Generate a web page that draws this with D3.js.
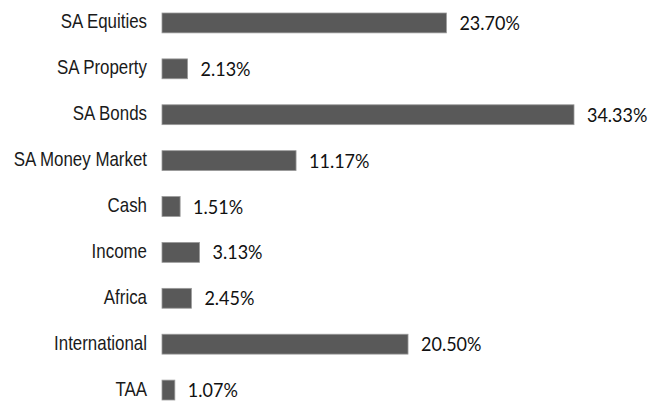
<!DOCTYPE html>
<html><head><meta charset="utf-8">
<script src="https://cdn.jsdelivr.net/npm/d3@7"></script>
<style>body{margin:0;background:#fff}</style>
</head><body>
<svg id="chart" width="650" height="403"></svg>
<script>
const categories = ["SA Equities","SA Property","SA Bonds","SA Money Market","Cash","Income","Africa","International","TAA"];
const values = [23.70, 2.13, 34.33, 11.17, 1.51, 3.13, 2.45, 20.50, 1.07];
const valueLabels = ["23.70%","2.13%","34.33%","11.17%","1.51%","3.13%","2.45%","20.50%","1.07%"];

const svg = d3.select("#chart");
const x = d3.scaleLinear().domain([0, 34.33]).range([162, 574]);
const y = d3.scaleBand().domain(categories).range([13, 400]).paddingInner(0.567).paddingOuter(0);

const rows = categories.map((c,i)=>({c, v: values[i], t: valueLabels[i]}));

svg.selectAll("rect.bar").data(rows).enter().append("rect")
  .attr("class","bar")
  .attr("x", x(0))
  .attr("y", d=>y(d.c))
  .attr("width", d=>x(d.v)-x(0))
  .attr("height", y.bandwidth())
  .attr("fill","#595959")
  .attr("stroke","#9a9a9a")
  .attr("stroke-width",0.8);

svg.selectAll("text.cat").data(rows).enter().append("text")
  .attr("class","cat")
  .attr("transform", d=>`translate(147,${y(d.c)+y.bandwidth()/2+5.5}) scale(0.845,1)`)
  .attr("text-anchor","end")
  .attr("font-family","'Liberation Sans', Arial, sans-serif")
  .attr("font-size",20)
  .attr("fill","#1a1a1a")
  .text(d=>d.c);

svg.selectAll("text.val").data(rows).enter().append("text")
  .attr("class","val")
  .attr("transform", d=>`translate(${x(d.v)+13},${y(d.c)+y.bandwidth()/2+7}) scale(0.9,1)`)
  .attr("font-family","Lato, 'Open Sans', sans-serif")
  .attr("font-size",20)
  .attr("fill","#111")
  .text(d=>d.t);
</script>
</body></html>
